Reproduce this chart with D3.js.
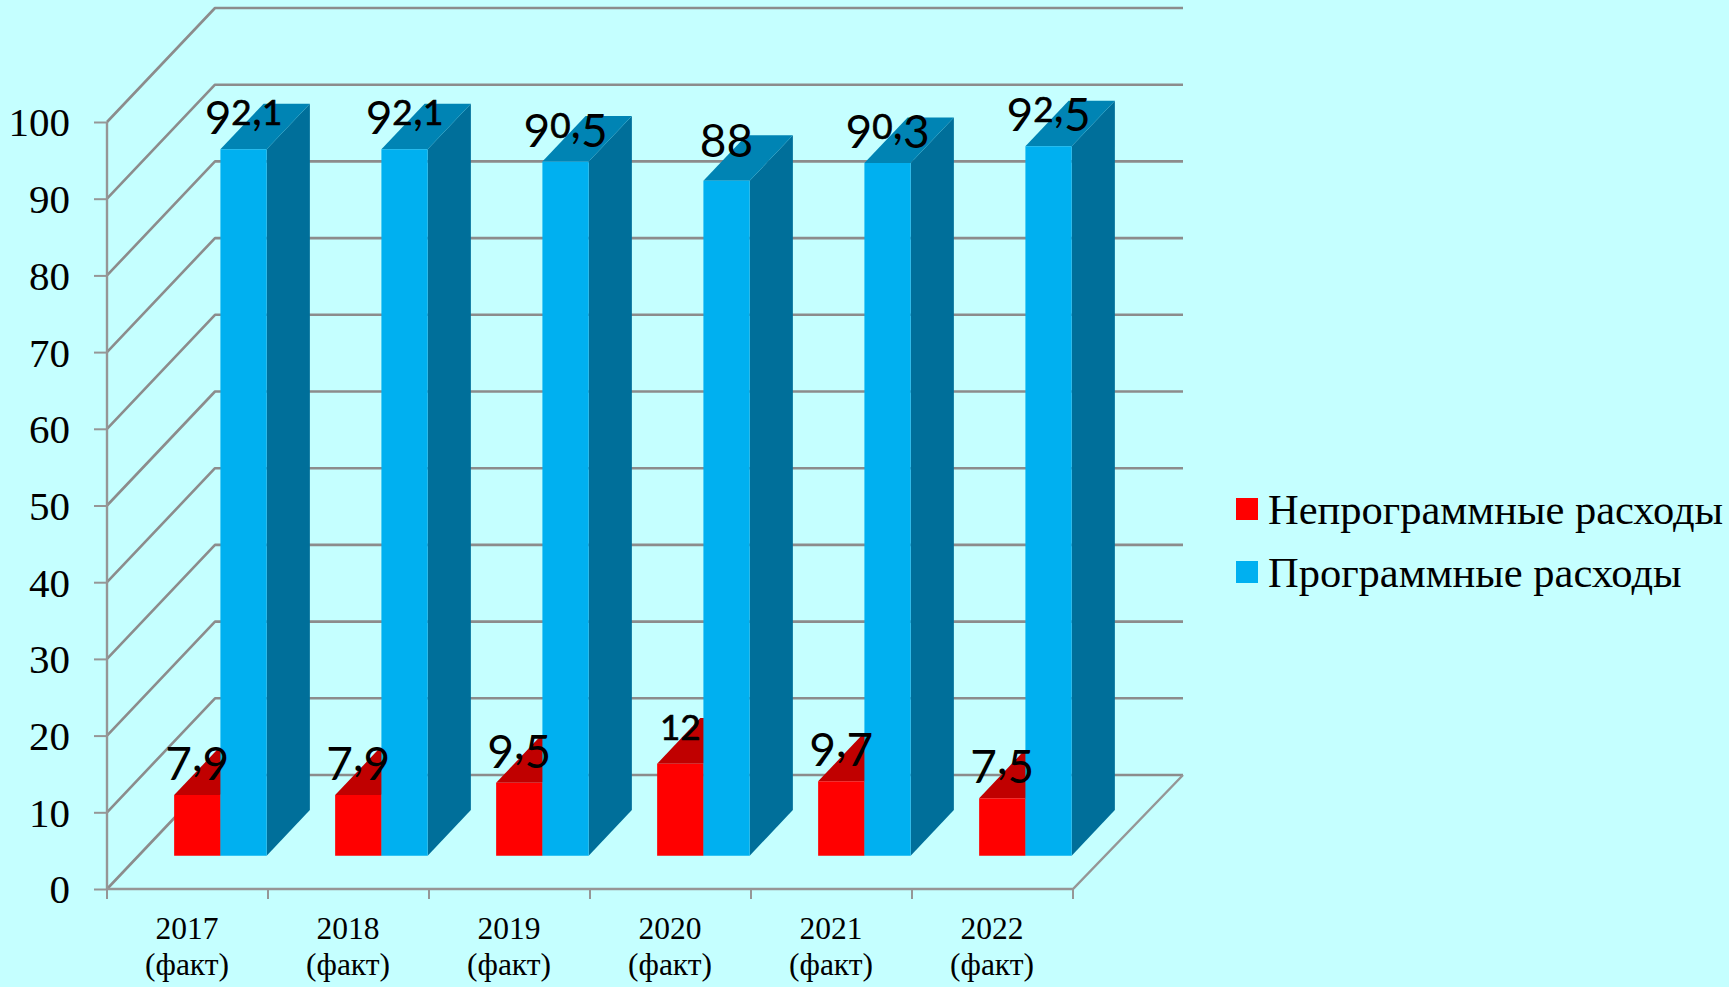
<!DOCTYPE html>
<html><head><meta charset="utf-8">
<script src="https://cdn.jsdelivr.net/npm/d3@7/dist/d3.min.js"></script>
<style>
html,body{margin:0;padding:0;background:#C5FFFF;overflow:hidden}
svg{display:block}
text{fill:#000}
.serif{font-family:"Liberation Serif",serif}
.lab{font-family:"Lato","Open Sans",sans-serif}
</style></head><body>
<svg id="c" width="1729" height="987"></svg>
<script>
const categories = ["2017","2018","2019","2020","2021","2022"];
const categoryNote = "(факт)";
const seriesNames = ["Непрограммные расходы","Программные расходы"];
const nonProgram = [7.9,7.9,9.5,12,9.7,7.5];
const program = [92.1,92.1,90.5,88,90.3,92.5];
const nonProgramLabels = ["7,9","7,9","9,5","12","9,7","7,5"];
const programLabels = ["92,1","92,1","90,5","88","90,3","92,5"];
const yTicks = [0,10,20,30,40,50,60,70,80,90,100];
const frontColors = ["#FF0000","#00B0F0"];
const topColors = ["#C00000","#0084B4"];
const sideColors = ["#BF0000","#006F9A"];

const svg = d3.select("#c");
const x = d3.scaleBand().domain(categories).range([107,1073]);
const inner = d3.scaleBand().domain([0,1]).range([0,x.step()]).paddingInner(0).paddingOuter(0.74).align(0.52);
const y = d3.scaleLinear().domain([0,100]).range([889,122]);
const depthX = 108, depthY = 114;
const zFront = 0.292, zBack = 0.692;
const P = (px,v,z)=>[px+z*depthX, y(v)-z*depthY];
const poly = pts => pts.map(p=>p.join(",")).join(" ");

const g = svg.append("g");
g.selectAll("polyline.grid").data(yTicks).join("polyline").attr("class","grid")
  .attr("fill","none").attr("stroke-linejoin","round")
  .attr("stroke","#8C8C8C").attr("stroke-width",2.6)
  .attr("points",d=>poly([P(107,d,0),P(107,d,1),P(1075,d,1)]));
g.append("polyline").attr("fill","none").attr("stroke","#969696").attr("stroke-width",2.4)
  .attr("points",poly([P(107,0,0),P(1073,0,0),P(1075,0,1)]));

const yAxis = d3.axisLeft(y).tickValues(yTicks).tickSize(13).tickPadding(24);
const ay = svg.append("g").attr("transform","translate(107,0)").call(yAxis);
ay.select(".domain").attr("stroke","#969696").attr("stroke-width",2.4).attr("d",`M0,${y(100)}V${y(0)}`);
ay.selectAll(".tick line").attr("stroke","#969696").attr("stroke-width",2);
ay.selectAll(".tick text").attr("class","serif").style("font-size","41px").attr("dy","0.34em");
ay.attr("font-family",null).attr("font-size",null);

const edges = [x(categories[0])].concat(categories.map(c=>x(c)+x.step()));
svg.selectAll("line.xt").data(edges).join("line").attr("class","xt")
  .attr("x1",d=>d).attr("x2",d=>d).attr("y1",y(0)).attr("y2",y(0)+10)
  .attr("stroke","#969696").attr("stroke-width",2);
const xl = svg.selectAll("text.xl").data(categories).join("text").attr("class","xl serif")
  .attr("text-anchor","middle").style("font-size","31.5px");
xl.append("tspan").attr("x",d=>x(d)+x.step()/2-0.5).attr("y",939).text(d=>d);
xl.append("tspan").attr("x",d=>x(d)+x.step()/2-0.5).attr("y",975).text(categoryNote);

const seriesVals = [nonProgram, program];
seriesVals.forEach((vals,s)=>{
  const b = svg.append("g");
  categories.forEach((c,i)=>{
    const x0 = x(c)+inner(s), x1 = x0+inner.bandwidth(), v = vals[i];
    b.append("polygon").attr("fill",sideColors[s]).attr("points",poly([P(x1,0,zFront),P(x1,0,zBack),P(x1,v,zBack),P(x1,v,zFront)]));
    b.append("polygon").attr("fill",topColors[s]).attr("points",poly([P(x0,v,zFront),P(x0,v,zBack),P(x1,v,zBack),P(x1,v,zFront)]));
    b.append("polygon").attr("fill",frontColors[s]).attr("points",poly([P(x0,0,zFront),P(x1,0,zFront),P(x1,v,zFront),P(x0,v,zFront)]));
  });
});
// data labels use old-style figures: short 0/1/2, descending 3/4/5/7/9
const glyphSize = ch => "012".includes(ch) ? 35 : 46;
const glyphDrop = ch => "34579".includes(ch) ? 9 : 0;
[[nonProgram,nonProgramLabels,0],[program,programLabels,1]].forEach(([vals,labs,s])=>{
  const t = svg.selectAll("text.v"+s).data(categories).join("text").attr("class","lab v"+s)
    .attr("text-anchor","middle")
    .attr("x",c=>x(c)+inner(s)+inner.bandwidth()/2+zFront*depthX)
    .attr("y",(c,i)=>P(0,vals[i],zFront)[1]-24);
  t.each(function(c,i){
    let cur = 0;
    const el = d3.select(this);
    for (const ch of labs[i]) {
      const d = glyphDrop(ch);
      el.append("tspan").attr("dy",d-cur).style("font-size",glyphSize(ch)+"px")
        .attr("stroke","#000").attr("stroke-width","012".includes(ch)?0.7:0).text(ch);
      cur = d;
    }
  });
});
const leg = svg.selectAll("g.leg").data(seriesNames).join("g").attr("class","leg")
  .attr("transform",(d,i)=>`translate(1236,${498+i*63})`);
leg.append("rect").attr("width",22).attr("height",22).attr("fill",(d,i)=>frontColors[i]);
leg.append("text").attr("class","serif").attr("x",32).attr("y",26).style("font-size","42.5px").text(d=>d);
</script></body></html>
